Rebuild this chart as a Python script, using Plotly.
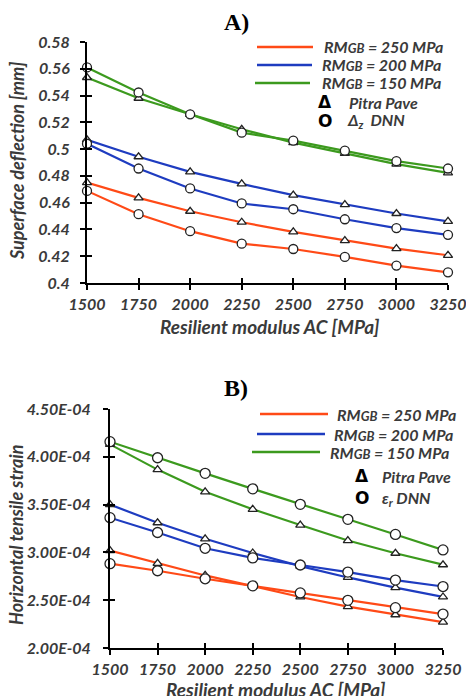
import plotly.graph_objects as go

# ---------------- data ----------------
rm_ac = [1500, 1750, 2000, 2250, 2500, 2750, 3000, 3250]

# Panel A: surface deflection [mm]
defl_250_pitra = [0.475, 0.4636, 0.4536, 0.4454, 0.4382, 0.4317, 0.4257, 0.4207]
defl_250_dnn   = [0.4688, 0.4514, 0.4387, 0.4294, 0.4254, 0.4195, 0.413, 0.408]
defl_200_pitra = [0.507, 0.4943, 0.483, 0.474, 0.4656, 0.4586, 0.4519, 0.446]
defl_200_dnn   = [0.504, 0.4855, 0.4706, 0.4594, 0.4551, 0.4476, 0.441, 0.436]
defl_150_pitra = [0.5535, 0.538, 0.526, 0.5148, 0.5048, 0.4968, 0.4888, 0.4823]
defl_150_dnn   = [0.561, 0.5423, 0.526, 0.5123, 0.5063, 0.4988, 0.491, 0.4855]

# Panel B: horizontal tensile strain
strain_250_pitra = [3.019e-4, 2.885e-4, 2.759e-4, 2.647e-4, 2.534e-4, 2.432e-4, 2.348e-4, 2.27e-4]
strain_250_dnn   = [2.882e-4, 2.808e-4, 2.724e-4, 2.65e-4, 2.576e-4, 2.499e-4, 2.422e-4, 2.355e-4]
strain_200_pitra = [3.50e-4, 3.31e-4, 3.142e-4, 2.994e-4, 2.857e-4, 2.738e-4, 2.632e-4, 2.534e-4]
strain_200_dnn   = [3.363e-4, 3.208e-4, 3.043e-4, 2.942e-4, 2.868e-4, 2.794e-4, 2.71e-4, 2.643e-4]
strain_150_pitra = [4.13e-4, 3.866e-4, 3.634e-4, 3.451e-4, 3.286e-4, 3.124e-4, 2.991e-4, 2.871e-4]
strain_150_dnn   = [4.158e-4, 3.99e-4, 3.827e-4, 3.665e-4, 3.503e-4, 3.346e-4, 3.188e-4, 3.026e-4]

x_ticks = [1500, 1750, 2000, 2250, 2500, 2750, 3000, 3250]
x_ticklabels = ["1500", "1750", "2000", "2250", "2500", "2750", "3000", "3250"]
ya_ticks = [0.4, 0.42, 0.44, 0.46, 0.48, 0.5, 0.52, 0.54, 0.56, 0.58]
ya_ticklabels = ["0.4", "0.42", "0.44", "0.46", "0.48", "0.5", "0.52", "0.54", "0.56", "0.58"]
yb_ticks = [2.0e-4, 2.5e-4, 3.0e-4, 3.5e-4, 4.0e-4, 4.5e-4]
yb_ticklabels = ["2.00E-04", "2.50E-04", "3.00E-04", "3.50E-04", "4.00E-04", "4.50E-04"]

series_names = ["RM<span style='font-size:13px'>GB</span> = 250 MPa",
                "RM<span style='font-size:13px'>GB</span> = 200 MPa",
                "RM<span style='font-size:13px'>GB</span> = 150 MPa"]
colors = ["#FF4A17", "#1E3CC0", "#3C9A1E"]

W, H = 466, 696
TXT = "#3a3a3a"
FONT = "Lato"

def px(xp):
    return xp / W

def py(yp):
    return 1 - yp / H

fig = go.Figure()

def add_series(xa, ya, pitra, dnn, color, csize, tsize):
    fig.add_trace(go.Scatter(x=rm_ac, y=pitra, mode="lines+markers", xaxis=xa, yaxis=ya,
                             line=dict(color=color, width=2.2),
                             marker=dict(symbol="triangle-up", size=tsize, color="white",
                                         line=dict(color="#222222", width=1.3)),
                             showlegend=False, cliponaxis=False))
    fig.add_trace(go.Scatter(x=rm_ac, y=dnn, mode="lines+markers", xaxis=xa, yaxis=ya,
                             line=dict(color=color, width=2.2),
                             marker=dict(symbol="circle", size=csize, color="white",
                                         line=dict(color="#222222", width=1.3)),
                             showlegend=False, cliponaxis=False))

A = [(defl_150_pitra, defl_150_dnn, colors[2]),
     (defl_200_pitra, defl_200_dnn, colors[1]),
     (defl_250_pitra, defl_250_dnn, colors[0])]
for p, d, c in A:
    add_series("x", "y", p, d, c, 9, 8)
B = [(strain_150_pitra, strain_150_dnn, colors[2]),
     (strain_200_pitra, strain_200_dnn, colors[1]),
     (strain_250_pitra, strain_250_dnn, colors[0])]
for p, d, c in B:
    add_series("x2", "y2", p, d, c, 10, 8)

# dummy traces for overlay axes (inside ticks -> crossing ticks)
fig.add_trace(go.Scatter(x=[None], y=[None], xaxis="x3", yaxis="y3", showlegend=False))
fig.add_trace(go.Scatter(x=[None], y=[None], xaxis="x4", yaxis="y4", showlegend=False))

tickfont = dict(family=FONT, size=16, color=TXT, weight="bold", style="italic")

domA_x = [px(87), px(448)]
domA_y = [py(283), py(42)]
domB_x = [px(110), px(443)]
domB_y = [py(648), py(409)]

def xax(dom, anchor, ticks, overlay=None):
    d = dict(domain=dom, anchor=anchor, range=[1500, 3250], tickvals=x_ticks,
             ticktext=x_ticklabels, showgrid=False, zeroline=False, showline=True,
             linecolor="black", linewidth=2, ticks=ticks, ticklen=5, tickwidth=2,
             tickcolor="black", tickfont=tickfont, ticklabelstandoff=1, automargin=False,
             ticklabeloverflow="allow")
    if overlay:
        d.update(overlaying=overlay, showticklabels=False)
    return d

def yax(dom, anchor, rng, tv, tt, ticks, overlay=None, standoff=6):
    d = dict(domain=dom, anchor=anchor, range=rng, tickvals=tv, ticktext=tt,
             showgrid=False, zeroline=False, showline=True, linecolor="black",
             linewidth=2, ticks=ticks, ticklen=5, tickwidth=2, tickcolor="black",
             tickfont=tickfont, ticklabelstandoff=standoff, automargin=False,
             ticklabeloverflow="allow")
    if overlay:
        d.update(overlaying=overlay, showticklabels=False)
    return d

fig.update_layout(
    template="none",
    width=W, height=H, margin=dict(l=0, r=0, t=0, b=0, autoexpand=False),
    paper_bgcolor="white", plot_bgcolor="rgba(0,0,0,0)", showlegend=False,
    xaxis=xax(domA_x, "y", "outside"),
    yaxis=yax(domA_y, "x", [0.4, 0.58], ya_ticks, ya_ticklabels, "outside", standoff=7),
    xaxis2=xax(domB_x, "y2", "outside"),
    yaxis2=yax(domB_y, "x2", [2.0e-4, 4.5e-4], yb_ticks, yb_ticklabels, "outside", standoff=9),
    xaxis3=xax(domA_x, "y3", "inside", overlay="x"),
    yaxis3=yax(domA_y, "x3", [0.4, 0.58], ya_ticks, ya_ticklabels, "inside", overlay="y"),
    xaxis4=xax(domB_x, "y4", "inside", overlay="x2"),
    yaxis4=yax(domB_y, "x4", [2.0e-4, 4.5e-4], yb_ticks, yb_ticklabels, "inside", overlay="y2"),
)

ann = []
shapes = []

def text(x, y, s, size=16, xanchor="left", font=None, angle=0):
    f = dict(family=FONT, size=size, color=TXT, weight="bold", style="italic")
    if font:
        f = font
    ann.append(dict(x=px(x), y=py(y), xref="paper", yref="paper", text=s, showarrow=False,
                    xanchor=xanchor, yanchor="middle", font=f, textangle=angle))

serif = dict(family="Liberation Serif", size=24, color="black", weight="bold")
text(236, 22, "A)", xanchor="center", font=serif)
text(236, 388, "B)", xanchor="center", font=serif)

# axis titles
text(270, 326, "Resilient modulus AC [MPa]", size=19, xanchor="center")
text(276, 689, "Resilient modulus AC [MPa]", size=19, xanchor="center")
text(17, 161, "Superface deflection [mm]", size=18, xanchor="center", angle=-90)
text(16, 535, "Horizontal tensile strain", size=18, xanchor="center", angle=-90)

# legend A
legA = [(257, 313, 47, 322), (257, 312, 65, 320), (255, 310, 83, 320)]
for (x0, x1, yy, tx), name, c in zip(legA, series_names, colors):
    shapes.append(dict(type="line", xref="paper", yref="paper", x0=px(x0), x1=px(x1),
                       y0=py(yy), y1=py(yy), line=dict(color=c, width=2.5)))
    text(tx, yy, name)
sym = dict(family="DejaVu Sans", size=17, color="black", weight="bold")
text(325, 102, "Δ", xanchor="center", font=sym)
text(347, 102, "Pitra Pave")
text(325, 121, "O", xanchor="center", font=sym)
text(345, 121, "Δ<sub>z</sub>  DNN")

# legend B
legB = [(260, 328, 414, 335), (257, 325, 434, 332), (252, 320, 452, 328)]
for (x0, x1, yy, tx), name, c in zip(legB, series_names, colors):
    shapes.append(dict(type="line", xref="paper", yref="paper", x0=px(x0), x1=px(x1),
                       y0=py(yy), y1=py(yy), line=dict(color=c, width=2.5)))
    text(tx, yy, name)
text(362, 476, "Δ", xanchor="center", font=sym)
text(380, 476, "Pitra Pave")
text(362, 498, "O", xanchor="center", font=sym)
text(380, 498, "ε<sub>r</sub> DNN")

fig.update_layout(annotations=ann, shapes=shapes)
fig.write_html("out.html", config={"displayModeBar": False},
               post_script="document.body.style.margin='0';document.body.style.overflow='hidden';")
